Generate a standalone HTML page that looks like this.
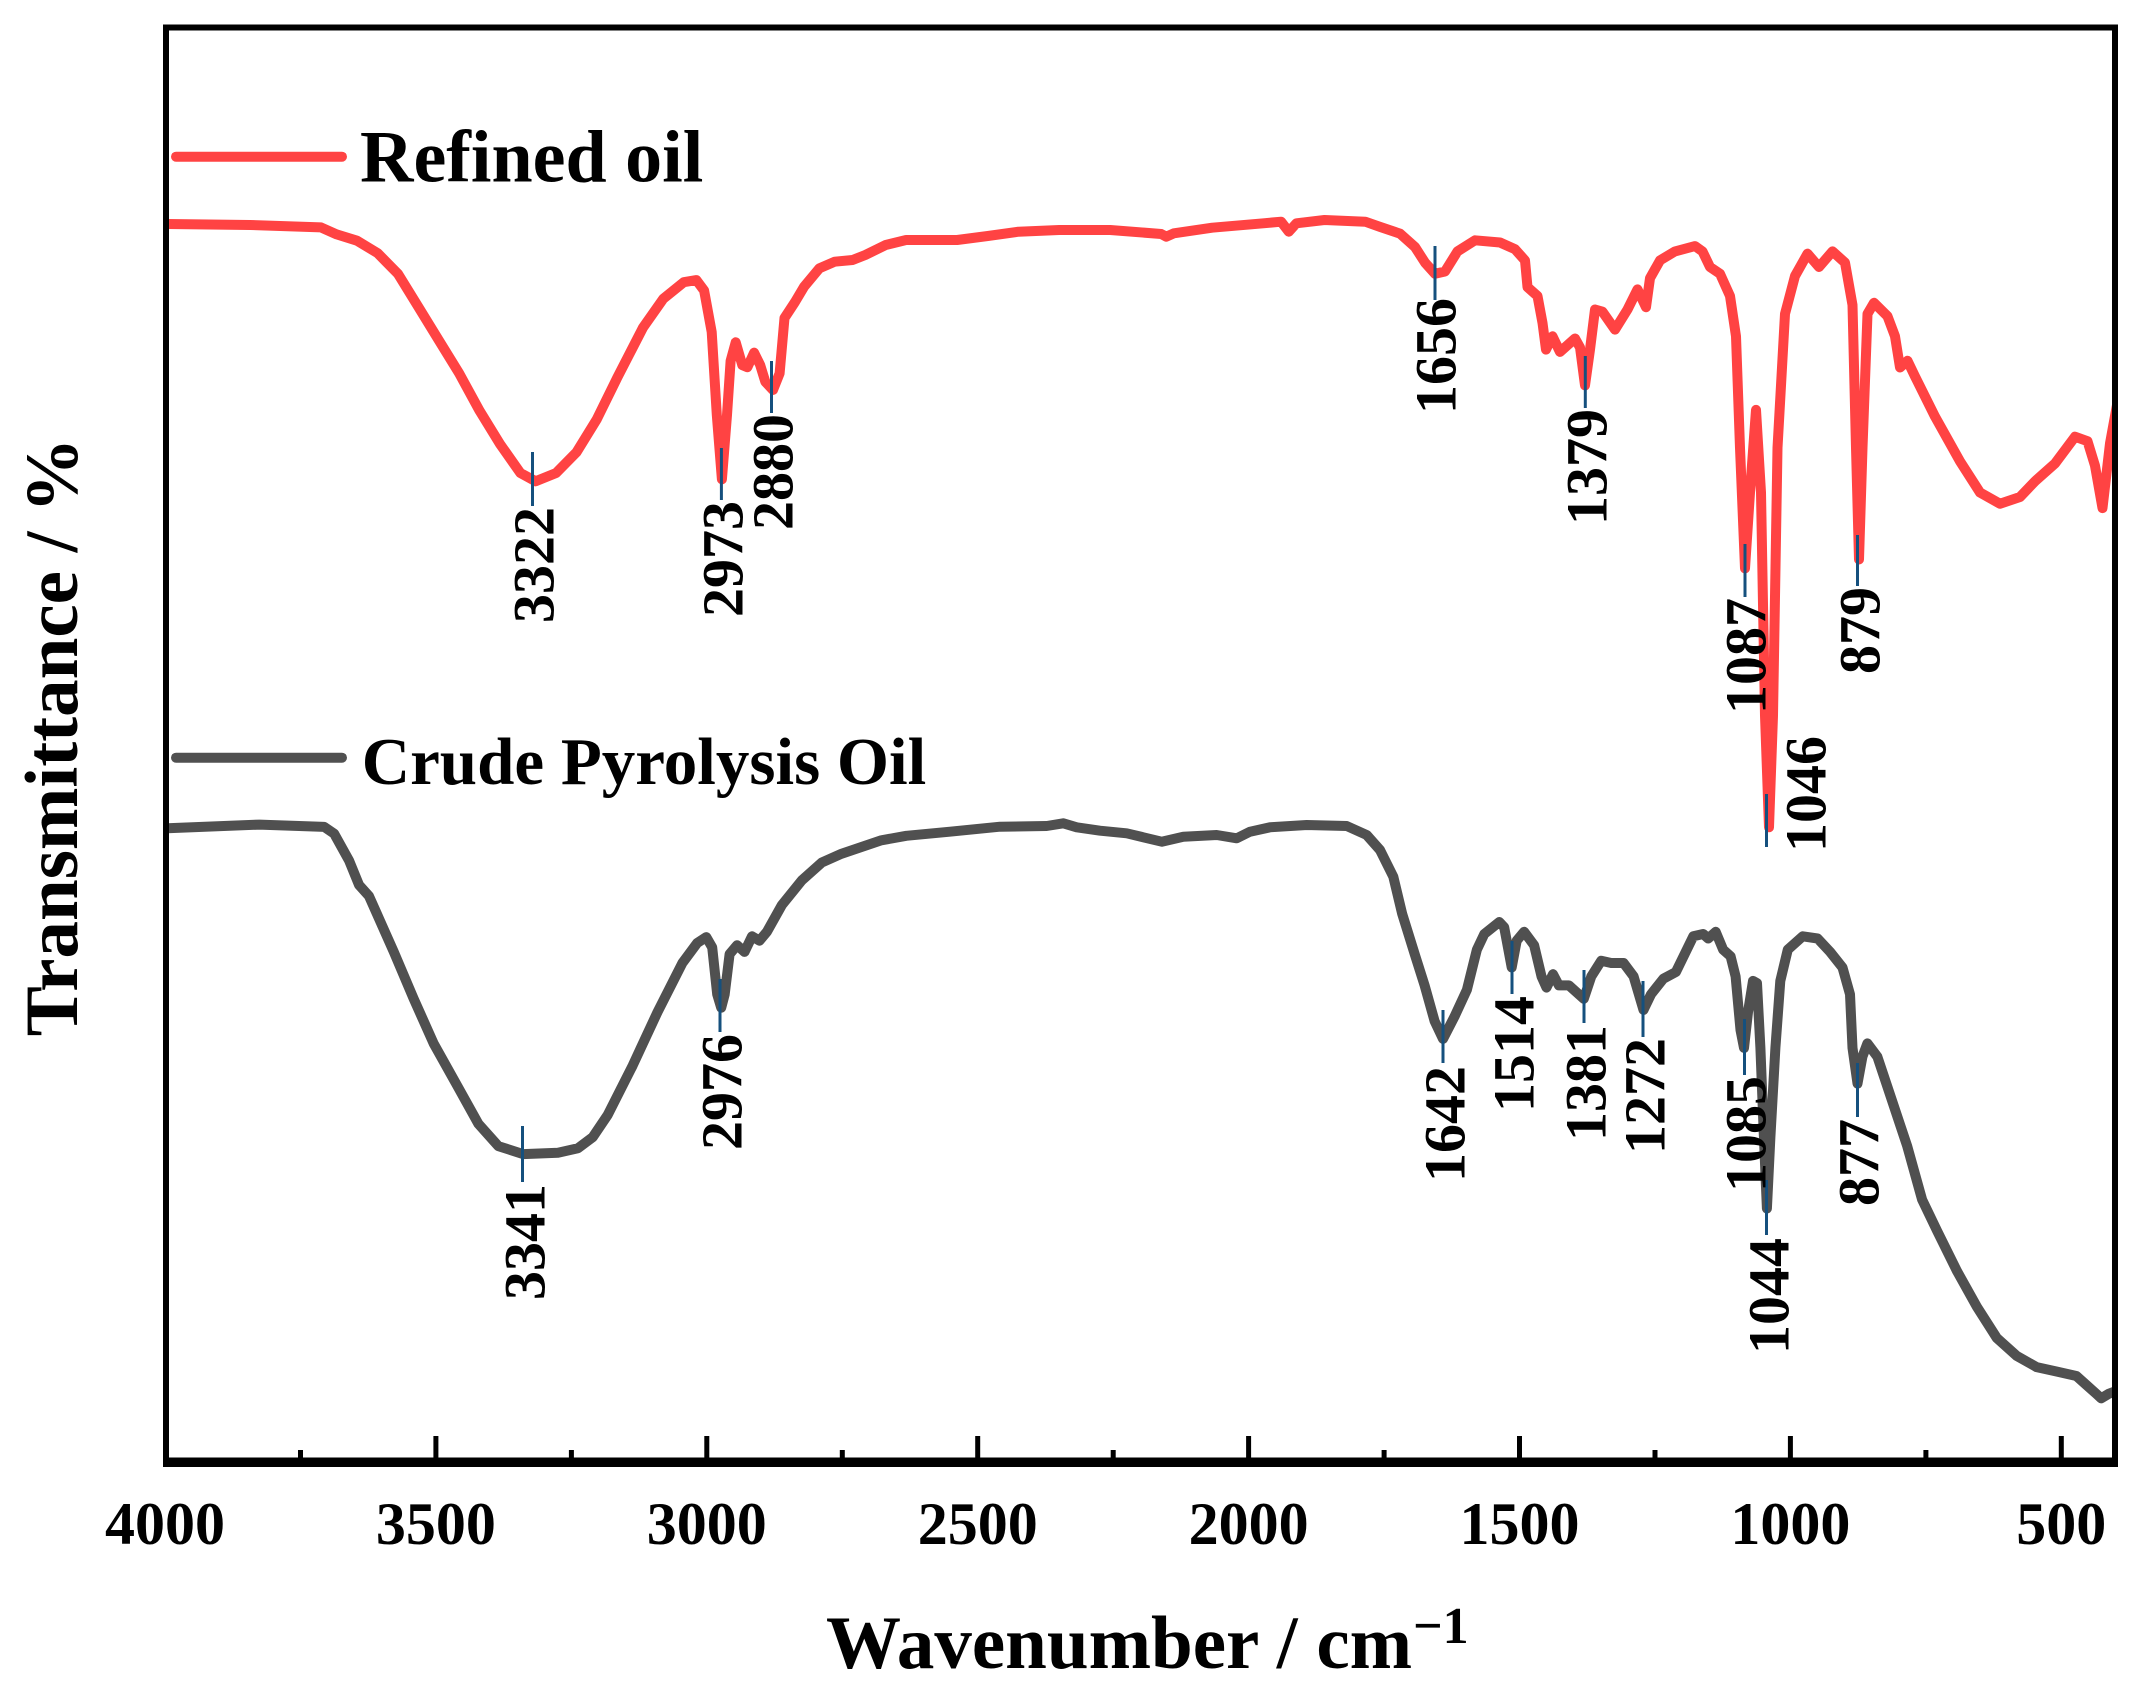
<!DOCTYPE html>
<html><head><meta charset="utf-8"><style>
html,body{margin:0;padding:0;background:#fff;}
svg{display:block;}
text{font-family:"Liberation Serif","Times New Roman",serif;font-weight:bold;fill:#000;}
.pk{font-size:58px;}
.tk{font-size:60px;}
</style></head><body>
<svg width="2131" height="1695" viewBox="0 0 2131 1695" xmlns="http://www.w3.org/2000/svg">
<rect x="0" y="0" width="2131" height="1695" fill="#fff"/>
<defs><clipPath id="c"><rect x="166" y="27" width="1949" height="1436"/></clipPath></defs>

<!-- curves -->
<g clip-path="url(#c)" fill="none" stroke-linejoin="round" stroke-linecap="round">
<polyline stroke="#ff4343" stroke-width="10" points="168,224 250,225 321,227.4 336.7,234.4 357,240.7 377.6,253.1 398,273.9 418.4,307 438.8,340.2 459.2,373.4 479.6,410.8 500,444 520.4,473 535.7,481.3 556.1,473 576.5,452.3 596.9,419.1 617.3,377.6 642.9,327.8 663.3,298.8 683.7,282.2 696.4,280.1 704.1,290.5 711.7,332 716.8,415 721.9,479.3 727,415 730.6,361 735.7,342.3 742.3,365.1 747.4,367.2 754.1,352.7 760.2,365.1 765.3,381.7 773,390 779.6,373.4 784.5,318 795,302 804.1,286.7 819.4,268.3 834.7,261.7 852.6,260 865.3,255 885.7,245 906.1,240 957.1,240 987.8,236 1018.4,231.7 1059.2,230 1110.2,230 1161.2,234 1166.3,236.7 1173.9,233.3 1212.2,227.7 1263.3,223.3 1281.1,221.7 1288.8,231.7 1296.4,223.3 1324.5,220 1365.3,221.7 1380,226.9 1400,233.6 1415,247 1425,262.6 1435,273.75 1445,271.5 1457.5,251.4 1475,240.3 1500,242.5 1515,249.2 1525,260.4 1527.5,287.1 1537.5,296 1542.5,322.9 1546,349.6 1552.5,336.3 1560,351.9 1575,338.5 1580,347.4 1585,385.4 1590,349.6 1595,309.5 1602.5,311.7 1615,329.6 1627.5,309.5 1637.5,289.4 1646,307.2 1650,278.2 1660,260.4 1675,251.4 1695,246.1 1702.5,251.4 1710,267 1720,273.75 1730,296 1736,336.3 1740,447.9 1745,568.4 1750,492.5 1756,409.9 1761,492.5 1765,715.7 1769,827.3 1773,715.7 1777.5,447.9 1785,313.9 1795,276 1807.5,253.7 1819,267 1832.5,251.4 1845,262.6 1852.5,305 1856,447.9 1859,559.5 1862.5,447.9 1867.5,313.9 1874,302.8 1887.5,316.2 1895,336.3 1900,367.5 1907.5,360.8 1915,376.4 1935,416.6 1960,461.3 1980,492.5 2000,503.7 2020,497 2035,481.3 2055,463.5 2075,436.7 2087.5,441.2 2095,465.7 2102.5,508.1 2110,443.4 2117,405"/>
<polyline stroke="#505050" stroke-width="10" points="167.5,828.2 259.5,824.6 324.2,826.9 334.1,833.6 349,860.4 359,884.9 369,896.1 378.9,918.4 393.8,951.9 413.7,998.8 433.6,1043.4 458.5,1088 478.4,1123.8 498.3,1146.1 523.2,1154.1 558,1152.8 577.9,1148.3 592.8,1137.1 607.8,1114.8 632.6,1065.7 657.5,1012.1 682.4,963 697.3,942.9 706.3,937.1 712.2,947.4 717.2,994.3 721.2,1007.7 724.7,994.3 729.6,954.1 737.1,945.2 744.5,951.9 752,936.3 759.5,940.7 766.9,931.8 781.9,905 801.8,880.4 821.7,862.6 841.6,853.7 861.5,847 881.4,840.3 906.3,835.8 950,831.7 1000,826.7 1046.7,826 1063.3,823.3 1076.7,827.3 1100,830.7 1126.7,833.3 1161.7,841.7 1183.3,836.7 1216.7,835 1236.7,838.3 1250,831.7 1270,827.3 1306.7,825 1346.7,826 1366.7,835 1380,850 1393.3,876.7 1402.2,913.9 1414.7,954.1 1424.6,985.4 1434.6,1021.1 1443,1038.9 1454.5,1016.6 1466.9,989.8 1476.9,949.6 1484.3,934 1499.3,922 1504.2,927.3 1511.7,967.5 1516.7,940.7 1524.1,931.8 1534.1,945.2 1541.5,976.4 1546.5,987.6 1553,974.2 1558.9,985.4 1568.9,985.4 1583.8,998.8 1591.3,976.4 1601.2,960.8 1611.2,963 1623.6,963 1633.6,976.4 1643.5,1009.9 1651,994.3 1663.4,978.7 1675.9,972 1693.3,936.3 1703.2,934 1708.2,938.5 1715.7,931.8 1723.1,949.6 1730.6,956.3 1735.6,976.4 1740.5,1030 1744,1047.9 1748,1012.1 1753,980.9 1757,983.1 1760.4,1047.9 1763.9,1137.1 1766.9,1208.6 1770.4,1137.1 1775.4,1047.9 1780.3,980.9 1787.8,949.6 1802.7,936.3 1817.6,938.5 1830.1,951.9 1842.5,967.5 1850,994.3 1852.5,1047.9 1857.5,1083.6 1862.4,1056.8 1867.4,1043.4 1877.4,1056.8 1892.3,1101.4 1907.2,1146.1 1922.1,1199.6 1937.1,1230.9 1957,1271.1 1976.9,1306.8 1996.8,1338 2016.7,1355.9 2036.6,1367.1 2056.5,1371.5 2076.4,1376 2086.3,1384.9 2096.3,1393.8 2101.2,1398.3 2108.7,1393.8 2116,1391"/>
</g>

<!-- peak tick lines -->
<g stroke="#15507e" stroke-width="3">
<line x1="532.5" y1="452" x2="532.5" y2="506"/>
<line x1="721.4" y1="448" x2="721.4" y2="500"/>
<line x1="771.5" y1="361" x2="771.5" y2="413"/>
<line x1="1435" y1="246" x2="1435" y2="300"/>
<line x1="1585.3" y1="356" x2="1585.3" y2="408"/>
<line x1="1745" y1="544" x2="1745" y2="597"/>
<line x1="1766.5" y1="794" x2="1766.5" y2="847"/>
<line x1="1857.5" y1="535" x2="1857.5" y2="586"/>
<line x1="522.5" y1="1126" x2="522.5" y2="1182"/>
<line x1="720" y1="979" x2="720" y2="1032"/>
<line x1="1443" y1="1010" x2="1443" y2="1063"/>
<line x1="1512" y1="941" x2="1512" y2="994"/>
<line x1="1584" y1="970" x2="1584" y2="1023"/>
<line x1="1643" y1="981" x2="1643" y2="1037"/>
<line x1="1744.5" y1="1019" x2="1744.5" y2="1075"/>
<line x1="1766.5" y1="1180" x2="1766.5" y2="1235"/>
<line x1="1857.5" y1="1063" x2="1857.5" y2="1117"/>
</g>

<!-- peak labels -->
<g class="pk" text-anchor="end">
<text transform="translate(533,507) rotate(-90)" dy="0.35em">3322</text>
<text transform="translate(722,501) rotate(-90)" dy="0.35em">2973</text>
<text transform="translate(772,414) rotate(-90)" dy="0.35em">2880</text>
<text transform="translate(1435,298) rotate(-90)" dy="0.35em">1656</text>
<text transform="translate(1586,409) rotate(-90)" dy="0.35em">1379</text>
<text transform="translate(1745,598) rotate(-90)" dy="0.35em">1087</text>
<text transform="translate(1805,736) rotate(-90)" dy="0.35em">1046</text>
<text transform="translate(1859,587) rotate(-90)" dy="0.35em">879</text>
<text transform="translate(524,1184) rotate(-90)" dy="0.35em">3341</text>
<text transform="translate(721,1034) rotate(-90)" dy="0.35em">2976</text>
<text transform="translate(1444,1066) rotate(-90)" dy="0.35em">1642</text>
<text transform="translate(1513,996) rotate(-90)" dy="0.35em">1514</text>
<text transform="translate(1585,1025) rotate(-90)" dy="0.35em">1381</text>
<text transform="translate(1644,1038) rotate(-90)" dy="0.35em">1272</text>
<text transform="translate(1745,1076) rotate(-90)" dy="0.35em">1085</text>
<text transform="translate(1768,1238) rotate(-90)" dy="0.35em">1044</text>
<text transform="translate(1858,1119) rotate(-90)" dy="0.35em">877</text>
</g>

<!-- legend -->
<line x1="176" y1="156.7" x2="342" y2="156.7" stroke="#ff4343" stroke-width="10" stroke-linecap="round"/>
<text x="360" y="181.7" style="font-size:74px">Refined oil</text>
<line x1="176" y1="757.7" x2="342" y2="757.7" stroke="#505050" stroke-width="10" stroke-linecap="round"/>
<text x="361.7" y="784" style="font-size:67px">Crude Pyrolysis Oil</text>

<!-- frame -->
<rect x="166" y="27.5" width="1949" height="1433" fill="none" stroke="#000" stroke-width="6"/>
<line x1="163" y1="1463" x2="2118" y2="1463" stroke="#000" stroke-width="8"/>

<!-- x ticks -->
<g stroke="#000" stroke-width="5">
<line x1="435.9" y1="1460" x2="435.9" y2="1436"/>
<line x1="706.8" y1="1460" x2="706.8" y2="1436"/>
<line x1="977.7" y1="1460" x2="977.7" y2="1436"/>
<line x1="1248.6" y1="1460" x2="1248.6" y2="1436"/>
<line x1="1519.5" y1="1460" x2="1519.5" y2="1436"/>
<line x1="1790.4" y1="1460" x2="1790.4" y2="1436"/>
<line x1="2061.3" y1="1460" x2="2061.3" y2="1436"/>
<line x1="300.5" y1="1460" x2="300.5" y2="1450"/>
<line x1="571.4" y1="1460" x2="571.4" y2="1450"/>
<line x1="842.3" y1="1460" x2="842.3" y2="1450"/>
<line x1="1113.2" y1="1460" x2="1113.2" y2="1450"/>
<line x1="1384.1" y1="1460" x2="1384.1" y2="1450"/>
<line x1="1655" y1="1460" x2="1655" y2="1450"/>
<line x1="1925.9" y1="1460" x2="1925.9" y2="1450"/>
</g>
<g class="tk" text-anchor="middle">
<text x="165" y="1544">4000</text>
<text x="435.9" y="1544">3500</text>
<text x="706.8" y="1544">3000</text>
<text x="977.7" y="1544">2500</text>
<text x="1248.6" y="1544">2000</text>
<text x="1519.5" y="1544">1500</text>
<text x="1790.4" y="1544">1000</text>
<text x="2061.3" y="1544">500</text>
</g>

<!-- axis titles -->
<text x="826" y="1668" style="font-size:75px">Wavenumber / cm</text>
<text x="1413" y="1643" style="font-size:52px">−1</text>
<text transform="translate(77,737) rotate(-90)" text-anchor="middle" style="font-size:75px">Transmittance / %</text>
</svg>
</body></html>
